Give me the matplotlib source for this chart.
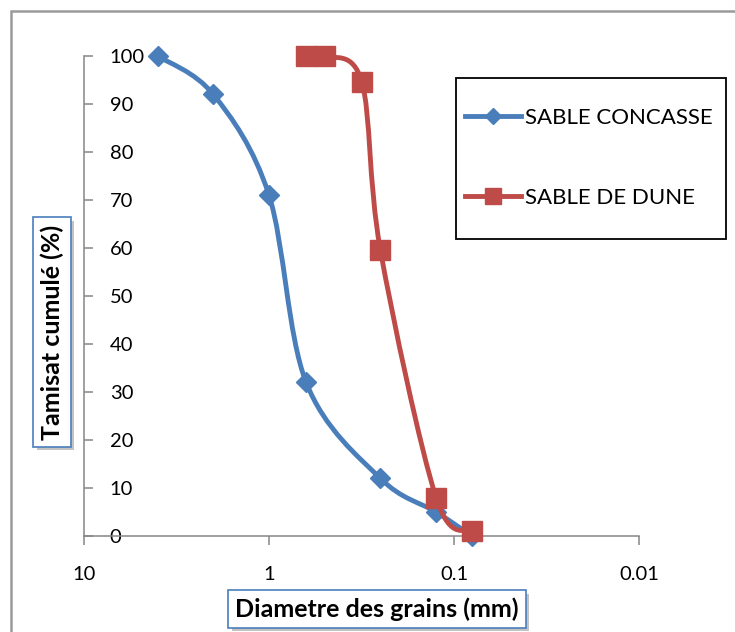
import numpy as np
import matplotlib
matplotlib.use("Agg")
import matplotlib.pyplot as plt
from matplotlib.path import Path
from matplotlib.patches import PathPatch, Rectangle
from matplotlib.lines import Line2D
import matplotlib.patheffects as pe

plt.rcParams['font.family'] = ['Lato', 'DejaVu Sans']

# grain size distribution (diameter in mm, cumulative passing in %)
concasse_d = [4, 2, 1, 0.63, 0.25, 0.125, 0.08]
concasse_p = [100, 92, 71, 32, 12, 5, 0]
dune_d = [0.63, 0.5, 0.315, 0.25, 0.125, 0.08]
dune_p = [100, 100, 94.6, 59.6, 8, 1]

x_ticks = [10, 1, 0.1, 0.01]
x_labels = ['10', '1', '0.1', '0.01']
y_ticks = list(range(0, 101, 10))

BLUE = '#4A7EBB'
RED = '#BE4B48'
AXIS_GREY = '#868686'


def smooth_path(xs, ys):
    """Catmull-Rom style bezier through the points, built in log-x space."""
    lx = np.log10(xs)
    y = np.asarray(ys, dtype=float)
    n = len(xs)
    verts = [(xs[0], ys[0])]
    codes = [Path.MOVETO]
    for i in range(n - 1):
        a = i - 1 if i > 0 else i
        b = i + 2 if i + 2 < n else i + 1
        c1 = (lx[i] + (lx[i + 1] - lx[a]) / 6, y[i] + (y[i + 1] - y[a]) / 6)
        c2 = (lx[i + 1] - (lx[b] - lx[i]) / 6, y[i + 1] - (y[b] - y[i]) / 6)
        verts += [(10 ** c1[0], c1[1]), (10 ** c2[0], c2[1]), (xs[i + 1], ys[i + 1])]
        codes += [Path.CURVE4] * 3
    return Path(verts, codes)


W, H = 735, 632
fig = plt.figure(figsize=(W / 100, H / 100), dpi=100)
ax = fig.add_axes([84 / W, 1 - 536 / H, (639 - 84) / W, (536 - 56) / H])

# outer chart border (only top/left visible)
fig.patches.append(Rectangle((11 / W, -0.1), 1.2, 1 - 11 / H + 0.1,
                             transform=fig.transFigure, fill=False,
                             ec='#9a9a9a', lw=1.8, zorder=0))

series = [
    (concasse_d, concasse_p, BLUE, 'D', 10.2, 'SABLE CONCASSE'),
    (dune_d, dune_p, RED, 's', 14.0, 'SABLE DE DUNE'),
]
z = 3
for xs, ys, col, mk, ms, lab in series:
    curve = PathPatch(smooth_path(xs, ys), fill=False, ec=col, lw=3.5,
                      capstyle='round', joinstyle='round', clip_on=False, zorder=z)
    ax.add_patch(curve)
    ax.plot(xs, ys, linestyle='none', marker=mk, ms=ms, mfc=col, mec=col,
            clip_on=False, zorder=z + 1)
    z += 2

ax.set_xscale('log')
ax.set_xlim(10, 0.01)
ax.set_ylim(0, 100)
ax.set_xticks(x_ticks)
ax.set_xticklabels(x_labels)
ax.xaxis.set_minor_locator(matplotlib.ticker.NullLocator())
ax.set_yticks(y_ticks)

for s in ['top', 'right']:
    ax.spines[s].set_visible(False)
for s in ['left', 'bottom']:
    ax.spines[s].set_color(AXIS_GREY)
    ax.spines[s].set_linewidth(1.1)

ax.tick_params(axis='y', direction='in', length=6.5, width=1.1, color=AXIS_GREY,
               labelsize=14.5, pad=-18.5)
for t in ax.get_yticklabels():
    t.set_horizontalalignment('left')
ax.tick_params(axis='x', direction='out', length=6.5, width=1.1, color=AXIS_GREY,
               labelsize=14.5, pad=15)

# legend inside a plain black box
fig.patches.append(Rectangle((456 / W, 1 - 239 / H), 270 / W, 161 / H,
                             transform=fig.transFigure, fill=False,
                             ec='black', lw=1.3, zorder=5))
handles = [Line2D([], [], color=c, lw=3.5, marker=m, ms=ms * 0.8, mfc=c, mec=c)
           for _, _, c, m, ms, _ in series]
labels = [s[5] for s in series]
fig.legend(handles, labels, loc='center left',
           bbox_to_anchor=(465 / W, 1 - 158 / H), frameon=False,
           fontsize=16, handlelength=2.5, handletextpad=0.2,
           labelspacing=2.7, borderpad=0, borderaxespad=0)

# axis titles in boxed labels with a soft shadow
box = dict(boxstyle='square,pad=0.28', fc='white', ec=BLUE, lw=1.2)
shadow = [pe.withSimplePatchShadow(offset=(2.5, -2.5), shadow_rgbFace='#888888', alpha=0.5)]
yt = fig.text(52 / W, 1 - 332 / H, 'Tamisat cumulé (%)', rotation=90,
              ha='center', va='center', fontsize=18, fontweight='bold', bbox=box)
xt = fig.text(377 / W, 1 - 609 / H, 'Diametre des grains (mm)',
              ha='center', va='center', fontsize=18, fontweight='bold', bbox=box)
fig.canvas.draw()
for t in (yt, xt):
    t.get_bbox_patch().set_path_effects(shadow)

fig.savefig('out.png', dpi=100)
